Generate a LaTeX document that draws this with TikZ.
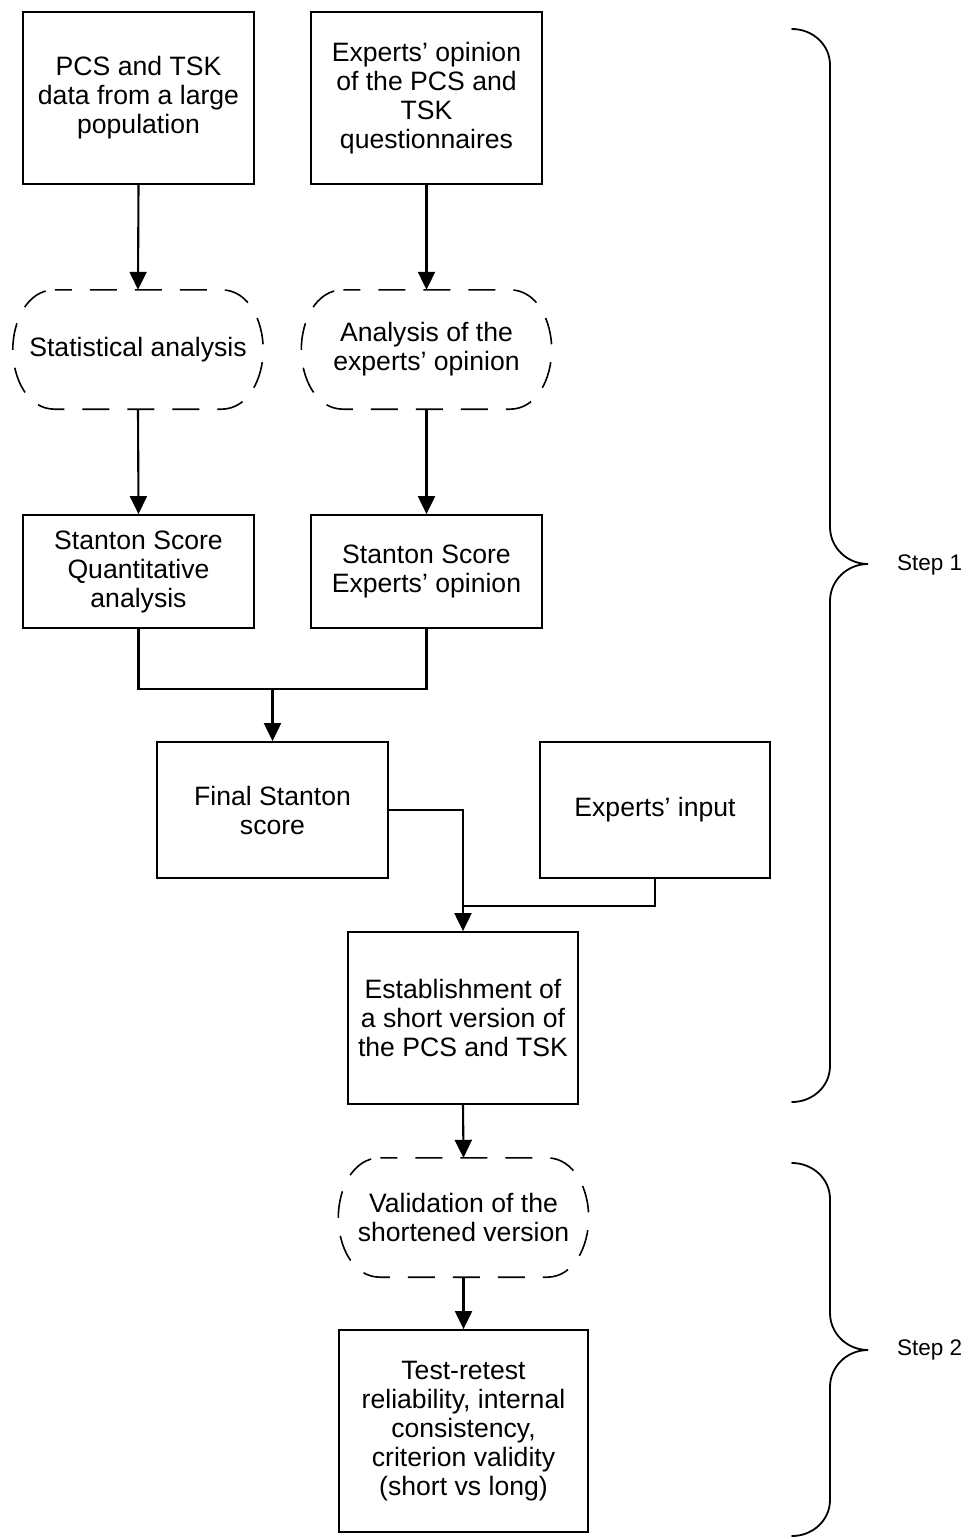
\documentclass[tikz,border=0pt]{standalone}
\usepackage{fontspec}
\setmainfont{Liberation Sans}
\usetikzlibrary{arrows.meta,calc}
\tikzset{
  box/.style={draw, line width=1.8pt, rectangle, align=center, inner sep=0pt},
  pilltext/.style={rectangle, align=center, inner sep=0pt, minimum width=250pt, minimum height=119pt},
  pill/.style={line width=1.6pt, dash pattern=on 27pt off 18pt, dash phase=10pt},
  conn/.style={line width=2.1pt},
  arr/.style={line width=2.1pt, -{Triangle[length=18pt,width=17pt]}},
  brace/.style={line width=1.8pt, line cap=round},
  steplabel/.style={anchor=west, inner sep=0pt, font=\fontsize{22.5pt}{26pt}\selectfont}
}
\newcommand{\drawpill}[1]{%
  \draw[pill] ($(#1.north west)+(42pt,0)$) -- ($(#1.north east)+(-42pt,0)$)
    .. controls ($(#1.north east)+(-14pt,0)$) and ($(#1.north east)+(0,-32pt)$) .. (#1.east)
    .. controls ($(#1.south east)+(0,32pt)$) and ($(#1.south east)+(-14pt,0)$) .. ($(#1.south east)+(-42pt,0)$)
    -- ($(#1.south west)+(42pt,0)$)
    .. controls ($(#1.south west)+(14pt,0)$) and ($(#1.south west)+(0,32pt)$) .. (#1.west)
    .. controls ($(#1.north west)+(0,-32pt)$) and ($(#1.north west)+(14pt,0)$) .. cycle;}
\begin{document}
\begin{tikzpicture}[x=1pt,y=1pt,font=\fontsize{26.6pt}{29pt}\selectfont]
\useasboundingbox (0,0) rectangle (969,-1539);
% boxes
\node[box, minimum width=231pt, minimum height=172pt] (A) at (138.5,-98) {PCS and TSK\\data from a large\\population};
\node[box, minimum width=231pt, minimum height=172pt] (B) at (426.5,-98) {Experts' opinion\\of the PCS and\\TSK\\questionnaires};
\node[pilltext] (SA) at (138,-349.5) {Statistical analysis};
\node[pilltext] (SB) at (426.5,-349.5) {Analysis of the\\experts’ opinion};
\node[box, minimum width=231pt, minimum height=113pt] (C) at (138.5,-571.5) {Stanton Score\\Quantitative\\analysis};
\node[box, minimum width=231pt, minimum height=113pt] (D) at (426.5,-571.5) {Stanton Score\\Experts’ opinion};
\node[box, minimum width=231pt, minimum height=136pt] (E) at (272.5,-810) {Final Stanton\\score};
\node[box, minimum width=230pt, minimum height=136pt] (F) at (655,-810) {Experts’ input};
\node[box, minimum width=230pt, minimum height=172pt] (G) at (463,-1018) {Establishment of\\a short version of\\the PCS and TSK};
\node[pilltext] (H) at (463.5,-1217.5) {Validation of the\\shortened version};
\node[box, minimum width=249pt, minimum height=202pt] (I) at (463.5,-1431) {Test-retest\\reliability, internal\\consistency,\\criterion validity\\(short vs long)};
\drawpill{SA}
\drawpill{SB}
\drawpill{H}
% junctions
\coordinate (j1) at (272.5,-689);
\coordinate (j2) at (463,-906);
% connectors
\draw[arr] (A.south) -- (SA.north);
\draw[arr] (B.south) -- (SB.north);
\draw[arr] (SA.south) -- (C.north);
\draw[arr] (SB.south) -- (D.north);
\draw[conn] (C.south) |- (j1) -| (D.south);
\draw[arr] (j1) -- (E.north);
\draw[arr] (E.east) -| (G.north);
\draw[conn] (F.south) |- (j2);
\draw[arr] (G.south) -- (H.north);
\draw[arr] (H.south) -- (I.north);
% braces
\draw[brace] (792,-29) to[out=0,in=90] (830,-65) -- (830,-527) to[out=-90,in=180] (868,-564)
  to[out=180,in=90] (830,-601) -- (830,-1066) to[out=-90,in=0] (792,-1102);
\node[steplabel] (s1) at (897,-565) {Step 1};
\draw[brace] (792,-1163) to[out=0,in=90] (830,-1199) -- (830,-1313) to[out=-90,in=180] (868,-1350)
  to[out=180,in=90] (830,-1387) -- (830,-1500) to[out=-90,in=0] (792,-1536);
\node[steplabel] (s2) at (897,-1350) {Step 2};
\end{tikzpicture}
\end{document}
